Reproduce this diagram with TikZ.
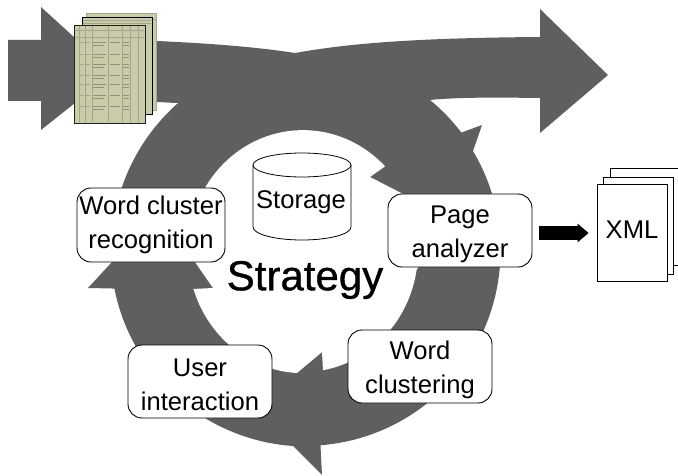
\documentclass[tikz,border=0pt]{standalone}
\usepackage{fontspec}
\setmainfont{Liberation Sans}
\newfontfamily\heavyfont[FakeBold=0.8]{Liberation Sans}
\usetikzlibrary{arrows.meta}
\definecolor{bandgray}{HTML}{5F5F5F}
\definecolor{paper}{HTML}{C9CBAB}
\definecolor{paperline}{HTML}{A3A68C}
\definecolor{paperink}{HTML}{8F927C}
\newcommand{\lowertext}{\rule{0pt}{25pt}}
\tikzset{
  x=1pt,y=-1pt,
  band/.style={fill=bandgray,draw=none},
  hole/.style={fill=white,draw=none},
  roundbox/.style={draw=black,fill=white,line width=0.9pt,rounded corners=14pt,align=center,inner sep=0pt,
    font=\fontsize{25.6}{34}\selectfont},
  sheet/.style={draw=black,fill=white,line width=0.8pt},
  scan/.style={fill=paper,line width=0.9pt},
  scanline/.style={draw=paperline,line width=0.3pt},
  scanink/.style={draw=paperink,line width=0.8pt},
  plain/.style={inner sep=0pt,font=\fontsize{25.6}{30}\selectfont},
  blockarrow/.style={draw=black,line width=13pt,-{Triangle[length=11pt,width=18pt]}},
}
\begin{document}
\begin{tikzpicture}
\useasboundingbox (0,0) rectangle (678,476);
% grey band with the ring
\path[band] (8,40) -- (41,40) -- (41,7) -- (75,38) -- (157,41)
  .. controls (200,43) and (250,46) .. (295,53)
  .. controls (340,45) and (400,38) .. (540,37)
  -- (540,9) -- (608,75) -- (540,133) -- (540,98)
  .. controls (500,97.5) and (460,97) .. (430,100)
  arc[start angle=50.6,end angle=37.2,radius=194pt]
  -- (482,125) -- (473,151)
  arc[start angle=30.8,end angle=-85.6,radius=195pt]
  -- (322,475) -- (293,446)
  arc[start angle=-94,end angle=-168.8,radius=196pt]
  -- (88,288) -- (112,262) -- (122,187)
  arc[start angle=161.2,end angle=131.3,radius=196pt]
  .. controls (170,103) and (163,102) .. (157,102)
  -- (75,103) -- (41,130) -- (41,101) -- (8,101) -- cycle;
% inner hole of the ring
\path[hole] (205.5,187)
  arc[start angle=148,end angle=44.5,x radius=115pt,y radius=121pt]
  -- (370,177) -- (405,195) -- (440,230) -- (416.6,270)
  arc[start angle=-9,end angle=-80,x radius=115pt,y radius=121pt]
  -- (322,352) -- (297,373)
  arc[start angle=-93,end angle=-162.3,x radius=115pt,y radius=121pt]
  -- (213,288) -- (195,262) -- cycle;
% scanned pages
\path[scan] (86,13) rectangle (156,110);
\draw[scanline] (86,19) -- (156,19) (86,13) rectangle (156,110);
\path[scan,draw=black] (82,17) rectangle (152,114);
\foreach \yy in {20,23} \draw[scanline] (83,\yy) -- (151,\yy);
\path[scan,draw=black!85!paper] (74,25) rectangle (145,123);
\foreach \xx in {79,85,92,108,122,130,138} \draw[scanline] (\xx,26) -- (\xx,122);
\foreach \yy in {30,37} \draw[scanline] (75,\yy) -- (144,\yy);
\foreach \yy in {42,54,64,75,84,95,106} {
  \draw[scanink] (93,\yy) -- (106,\yy) (93,\yy+3) -- (104,\yy+3);
  \draw[scanink] (110,\yy) -- (120,\yy);
  \draw[scanink] (123,\yy) -- (129,\yy) (123,\yy+3) -- (129,\yy+3);
  \draw[scanline] (80,\yy) -- (84,\yy) (86,\yy) -- (90,\yy);
}
% XML sheets
\path[sheet] (610,168) -- (690,168) -- (690,265) -- (610,265) -- cycle;
\path[sheet] (603,177) rectangle (673,274);
\node[sheet,minimum width=70pt,minimum height=97pt,inner sep=0pt,font=\fontsize{25.6}{30}\selectfont] (xml) at (632,232.5) {\raisebox{6pt}{XML}};
% storage
\path[sheet] (253,165) -- (253,227) arc[start angle=180,end angle=360,x radius=49pt,y radius=13pt] -- (351,165);
\draw[sheet] (302,165) ellipse[x radius=49pt,y radius=12pt];
\node[plain] (storage) at (301,202) {Storage};
% process boxes
\node[roundbox,minimum width=148pt,minimum height=74pt] (recog) at (151,225) {Word cluster\\recognition};
\node[roundbox,minimum width=144pt,minimum height=73pt] (page) at (460,230.5) {\lowertext Page\\analyzer};
\node[roundbox,minimum width=144pt,minimum height=73pt] (clust) at (420,366.5) {\lowertext Word\\clustering};
\node[roundbox,minimum width=144pt,minimum height=73pt] (user) at (200,381.5) {\lowertext User\\interaction};
% title
\node[inner sep=0pt,font=\fontsize{42}{50}\selectfont\heavyfont] (title) at (305,280) {Strategy};
% arrow to the XML output
\draw[blockarrow,shorten <=7pt,shorten >=8pt] ([yshift=-2.5pt]page.east) -- ([yshift=-0.5pt]xml.west);
\end{tikzpicture}
\end{document}
